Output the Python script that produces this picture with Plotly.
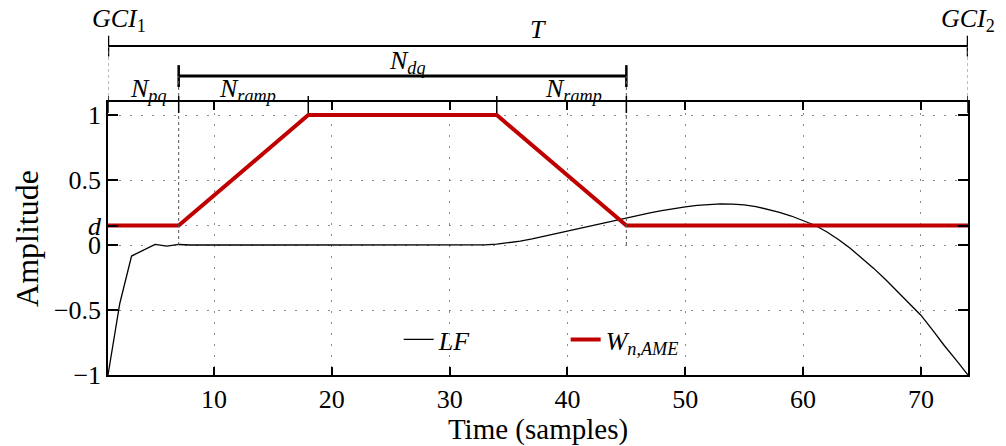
import plotly.graph_objects as go

# ---------------- data ----------------
samples = list(range(1, 75))
lf_values = [
    -1.0, -0.45, -0.085, -0.04, 0.005, -0.008, 0.004, 0.0, -0.002, 0.0,
    0.0, 0.0, -0.001, 0.0, 0.0, 0.0, 0.0, 0.0, 0.0, 0.0,
    0.0, 0.0, 0.0, 0.0, 0.0, 0.0, 0.0, 0.0, 0.0, 0.0,
    0.0, 0.0, 0.001, 0.006, 0.016, 0.03, 0.047, 0.067, 0.089, 0.111,
    0.132, 0.152, 0.172, 0.192, 0.211, 0.229, 0.247, 0.264, 0.28, 0.294,
    0.305, 0.312, 0.316, 0.315, 0.309, 0.296, 0.276, 0.251, 0.223, 0.19,
    0.152, 0.102, 0.042, -0.025, -0.1, -0.18, -0.265, -0.355, -0.445, -0.54,
    -0.655, -0.775, -0.885, -1.0,
]
d_level = 0.15
window_x = [1, 7, 18, 34, 45, 74]
window_y = [d_level, d_level, 1.0, 1.0, d_level, d_level]

x_tick_vals = [10, 20, 30, 40, 50, 60, 70]
y_tick_vals = [-1, -0.5, 0, d_level, 0.5, 1]
y_tick_text = ["\u22121", "\u22120.5", "0", "<i>d</i>", "0.5", "1"]

gci1, n_pq_end, ramp_top_start, ramp_top_end, n_dq_end, gci2 = window_x

FONT = "Liberation Serif"

fig = go.Figure()
fig.add_trace(go.Scatter(x=samples, y=lf_values, mode="lines", name="<i>LF</i>",
                         line=dict(color="black", width=1.3)))
fig.add_trace(go.Scatter(x=window_x, y=window_y, mode="lines",
                         name="<i>W</i><sub><i>n,AME</i></sub>",
                         line=dict(color="#c00000", width=4)))

# paper-y levels for the annotation area above the plot
Y_T = 1.205
Y_DQ = 1.095

shapes = []
def seg(x0, x1, y0, y1, w=1.5, dash="solid", color="black", yref="paper"):
    shapes.append(dict(type="line", xref="x", yref=yref, x0=x0, x1=x1, y0=y0, y1=y1,
                       line=dict(color=color, width=w, dash=dash), layer="above"))

# T bracket
seg(gci1, gci2, Y_T, Y_T, w=2)
for xb in (gci1, gci2):
    seg(xb, xb, Y_T - 0.038, Y_T + 0.038, w=2.5)
    seg(xb, xb, 1.0, Y_T, w=1, dash="3px,3px", color="#777")
# N_dq bracket
seg(n_pq_end, n_dq_end, Y_DQ, Y_DQ, w=3)
for xb in (n_pq_end, n_dq_end):
    seg(xb, xb, Y_DQ - 0.04, Y_DQ + 0.04, w=2.5)
    seg(xb, xb, 1.0, Y_DQ, w=1, dash="3px,3px", color="#555")
    seg(xb, xb, 0, 1.1, w=1, dash="3px,3px", color="#555", yref="y")
# upward ticks on the top frame at segment boundaries
for xb in window_x:
    seg(xb, xb, 0.96, 1.022, w=1.5)

annotations = []
def lab(x, y, text, size=26):
    annotations.append(dict(x=x, y=y, xref="x", yref="paper", text=text, showarrow=False,
                            font=dict(family=FONT, size=size, color="black"),
                            xanchor="center", yanchor="middle"))

lab(1.9, 1.30, "<i>GCI</i><sub>1</sub>")
lab(74.0, 1.30, "<i>GCI</i><sub>2</sub>")
lab(37.5, 1.265, "<i>T</i>")
lab(26.4, 1.145, "<i>N</i><sub><i>dq</i></sub>")
lab(4.4, 1.045, "<i>N</i><sub><i>pq</i></sub>")
lab(12.8, 1.045, "<i>N</i><sub><i>ramp</i></sub>")
lab(40.5, 1.045, "<i>N</i><sub><i>ramp</i></sub>")

fig.update_layout(
    width=1006, height=446,
    margin=dict(l=108, r=38, t=102, b=71, autoexpand=False),
    plot_bgcolor="white", paper_bgcolor="white",
    font=dict(family=FONT, size=27, color="black"),
    shapes=shapes, annotations=annotations,
    showlegend=True,
    legend=dict(orientation="h", x=0.338, y=0.13, xanchor="left", yanchor="middle",
                bgcolor="rgba(0,0,0,0)", font=dict(family=FONT, size=26),
                entrywidth=122, entrywidthmode="pixels"),
)
fig.update_xaxes(range=[1, 74], tickvals=x_tick_vals, ticks="inside", ticklen=8,
                 tickwidth=1.5, tickcolor="black", showline=True, linecolor="black",
                 linewidth=1.5, mirror="ticks", showgrid=True, gridcolor="#888",
                 griddash="2px,9px", gridwidth=1, zeroline=False, automargin=False,
                 title=dict(text="Time (samples)", standoff=0,
                            font=dict(family=FONT, size=29, color="black")),
                 tickfont=dict(size=26))
fig.update_yaxes(range=[-1, 1.1], tickvals=y_tick_vals, ticktext=y_tick_text,
                 ticks="inside", ticklen=10, tickwidth=1.5, tickcolor="black",
                 showline=True, linecolor="black", linewidth=1.5, mirror="ticks",
                 showgrid=True, gridcolor="#888", griddash="2px,9px", gridwidth=1,
                 zeroline=False, automargin=False, title=dict(text="Amplitude", standoff=6),
                 tickfont=dict(size=26))

fig.write_html("out.html", config={"displayModeBar": False},
               post_script="document.body.style.margin='0';document.body.style.padding='0';")
